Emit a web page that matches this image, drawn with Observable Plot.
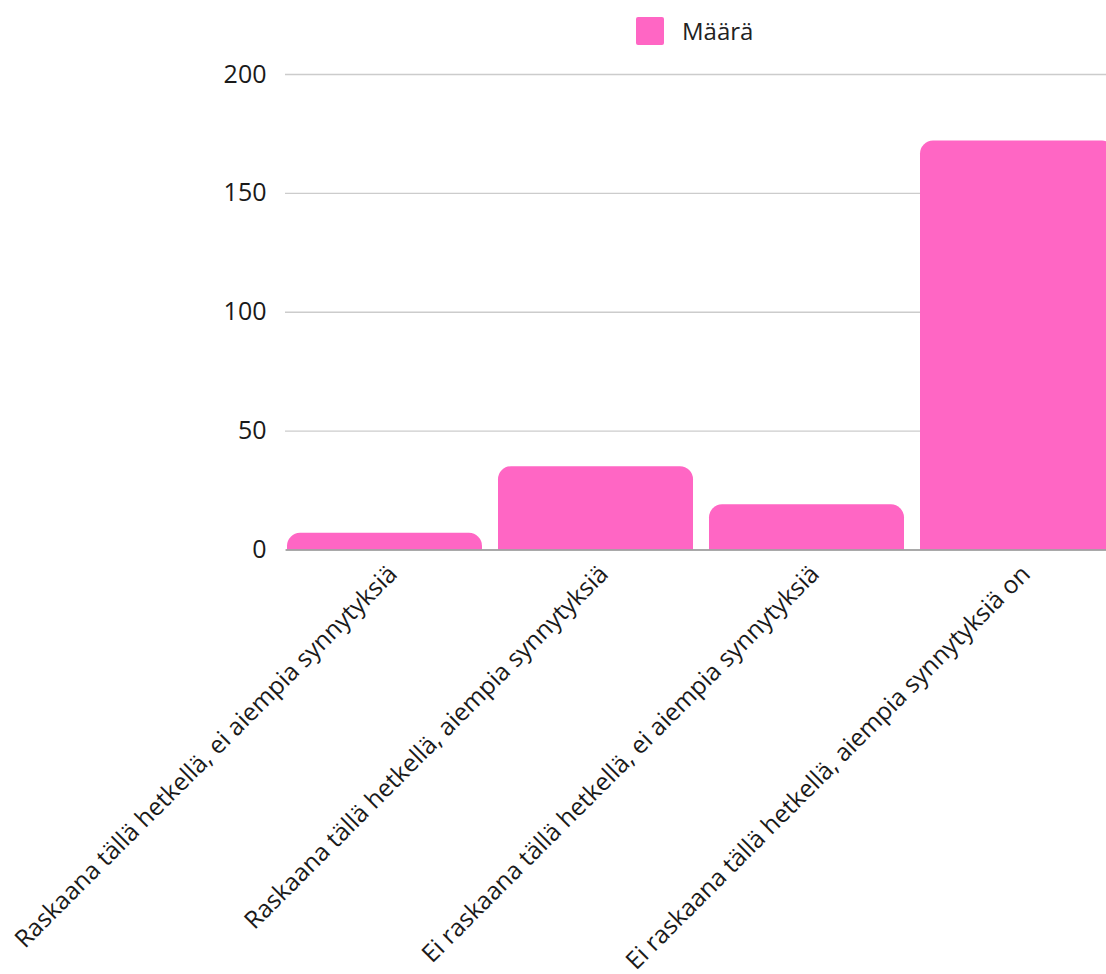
<!DOCTYPE html>
<html>
<head>
<meta charset="utf-8">
<script src="https://cdn.jsdelivr.net/npm/d3@7"></script>
<script src="https://cdn.jsdelivr.net/npm/@observablehq/plot@0.6"></script>
<style>
  html, body { margin: 0; padding: 0; background: #fff; overflow: hidden; width: 1106px; height: 974px; }
  body { font-family: "Open Sans", sans-serif; position: relative; }
  #legend { position: absolute; left: 636px; top: 14px; display: flex; align-items: center; font-size: 24px; color: #222; }
  #legend .sw { width: 28px; height: 28px; background: #ff66c4; border-radius: 2px; margin-right: 18px; }
  #chart { position: absolute; left: 0; top: 0; }
  #chart svg { max-width: none !important; }
</style>
</head>
<body>
<div id="legend"><div class="sw"></div><span id="legend-label"></span></div>
<div id="chart"></div>
<script>
const seriesName = "Määrä";
const categories = [
  "Raskaana tällä hetkellä, ei aiempia synnytyksiä",
  "Raskaana tällä hetkellä, aiempia synnytyksiä",
  "Ei raskaana tällä hetkellä, ei aiempia synnytyksiä",
  "Ei raskaana tällä hetkellä, aiempia synnytyksiä on"
];
const values = [7, 35, 19, 172];
const yTicks = [0, 50, 100, 150, 200];

const data = categories.map((c, i) => ({category: c, value: values[i]}));
document.getElementById("legend-label").textContent = seriesName;

const color = "#ff66c4";
const chart = Plot.plot({
  width: 1116,
  height: 974,
  marginLeft: 286,
  marginRight: 0,
  marginTop: 74,
  marginBottom: 424.5,
  style: {fontFamily: "Open Sans, sans-serif", fontSize: "24px", color: "#1a1a1a", overflow: "visible", maxWidth: "none"},
  x: {domain: categories, paddingInner: 0.076, paddingOuter: 0, label: null},
  y: {domain: [0, 200], ticks: yTicks, label: null},
  marks: [
    Plot.ruleY(yTicks, {stroke: "#cccccc", strokeWidth: 1.3, insetLeft: -1}),
    Plot.barY(data, {x: "category", y1: -7, y2: "value", fill: color, rx: 13, clip: true}),
    Plot.ruleY([0], {stroke: "#999999", strokeWidth: 1.5}),
    Plot.axisY({ticks: yTicks, tickSize: 0, tickPadding: 20, fontSize: 25, label: null}),
    Plot.axisX({tickSize: 0, tickRotate: -45, tickPadding: 20, fontSize: 24.5, label: null, dx: 8})
  ]
});
document.getElementById("chart").appendChild(chart);
</script>
</body>
</html>
